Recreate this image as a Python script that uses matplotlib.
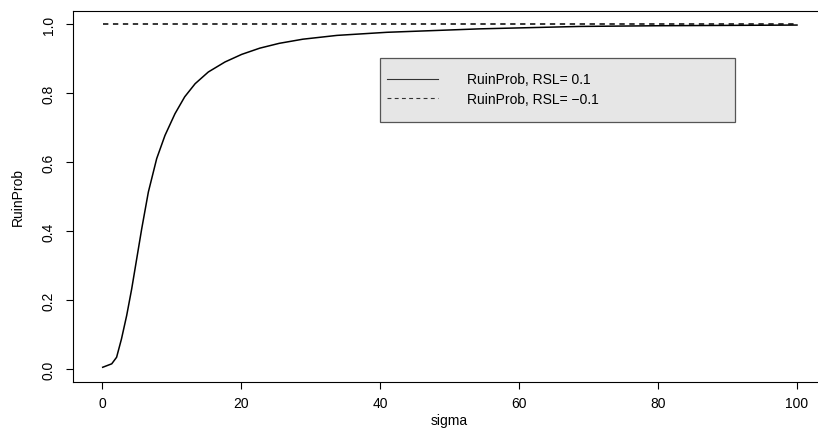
import numpy as np
import matplotlib
matplotlib.use("Agg")
import matplotlib.pyplot as plt
from matplotlib.patches import Rectangle

## data
sigma = [0.1, 1.4, 2.1, 2.8, 3.55, 4.27, 4.99, 5.71, 6.67, 7.87, 9.06,
         10.5, 11.9, 13.4, 15.3, 17.7, 20.1, 22.7, 25.5, 28.9, 33.8, 41.0,
         54.4, 68.8, 80.0, 100.0]
ruin_pos = [0.005, 0.015, 0.034, 0.087, 0.155, 0.232, 0.319, 0.406, 0.513,
            0.610, 0.677, 0.740, 0.789, 0.827, 0.861, 0.890, 0.912, 0.930,
            0.944, 0.956, 0.967, 0.976, 0.986, 0.993, 0.995, 0.997]
ruin_neg = [1.0] * len(sigma)
labels = ["RuinProb, RSL= 0.1", "RuinProb, RSL= \u22120.1"]
xticks = [0, 20, 40, 60, 80, 100]
yticks = [0.0, 0.2, 0.4, 0.6, 0.8, 1.0]

plt.rcParams["font.family"] = ["Liberation Sans", "DejaVu Sans"]
plt.rcParams["font.size"] = 10

W, H = 818, 431
fig = plt.figure(figsize=(W / 100, H / 100), dpi=100)
# plot box in pixels: left 73.3, right 825 (cut off), top 11.7, bottom 383
ax = fig.add_axes([73.3 / W, (H - 383) / H, 751.5 / W, 371.3 / H])

ax.plot(sigma, ruin_pos, color="black", lw=1.1, label=labels[0])
ax.plot(sigma, ruin_neg, color="black", lw=1.1, dashes=(3.5, 3.0),
        label=labels[1])

ax.set_xlim(-4.13, 104.0)
ax.set_ylim(-0.0377, 1.0386)
ax.set_xticks(xticks)
ax.set_yticks(yticks)
ax.set_xticklabels([str(t) for t in xticks])
ax.set_yticklabels(["%.1f" % t for t in yticks], rotation=90, va="center")
ax.tick_params(length=5, width=0.8, direction="out")
ax.tick_params(axis="x", pad=5)
ax.tick_params(axis="y", pad=7.5)
for s in ax.spines.values():
    s.set_linewidth(0.8)
ax.spines["right"].set_visible(False)

ax.set_xlabel("sigma")
ax.set_ylabel("RuinProb")
ax.xaxis.set_label_coords(0.5, -0.102)
ax.xaxis.label.set_va("center")
ax.yaxis.set_label_coords(-0.0736, 0.5)
ax.yaxis.label.set_va("center")

# legend frame (grey box like R's bg="gray90")
x0, x1 = (380 - 73.3) / 751.5, (735 - 73.3) / 751.5
y0, y1 = (383 - 123) / 371.3, (383 - 59) / 371.3
ax.add_patch(Rectangle((x0, y0), x1 - x0, y1 - y0, transform=ax.transAxes,
                       facecolor="#e6e6e6", edgecolor="#555555", lw=0.9,
                       zorder=3))
leg = ax.legend(loc="upper left", bbox_to_anchor=((387 - 73.3) / 751.5,
                (383 - 73.5) / 371.3), frameon=False, borderpad=0,
                borderaxespad=0, handlelength=3.7, handletextpad=2.05,
                labelspacing=0.4)
leg.set_zorder(4)
for h in leg.get_lines():
    h.set_linewidth(0.8)
    h.set_color("#333333")

fig.savefig("out.png", dpi=100)
